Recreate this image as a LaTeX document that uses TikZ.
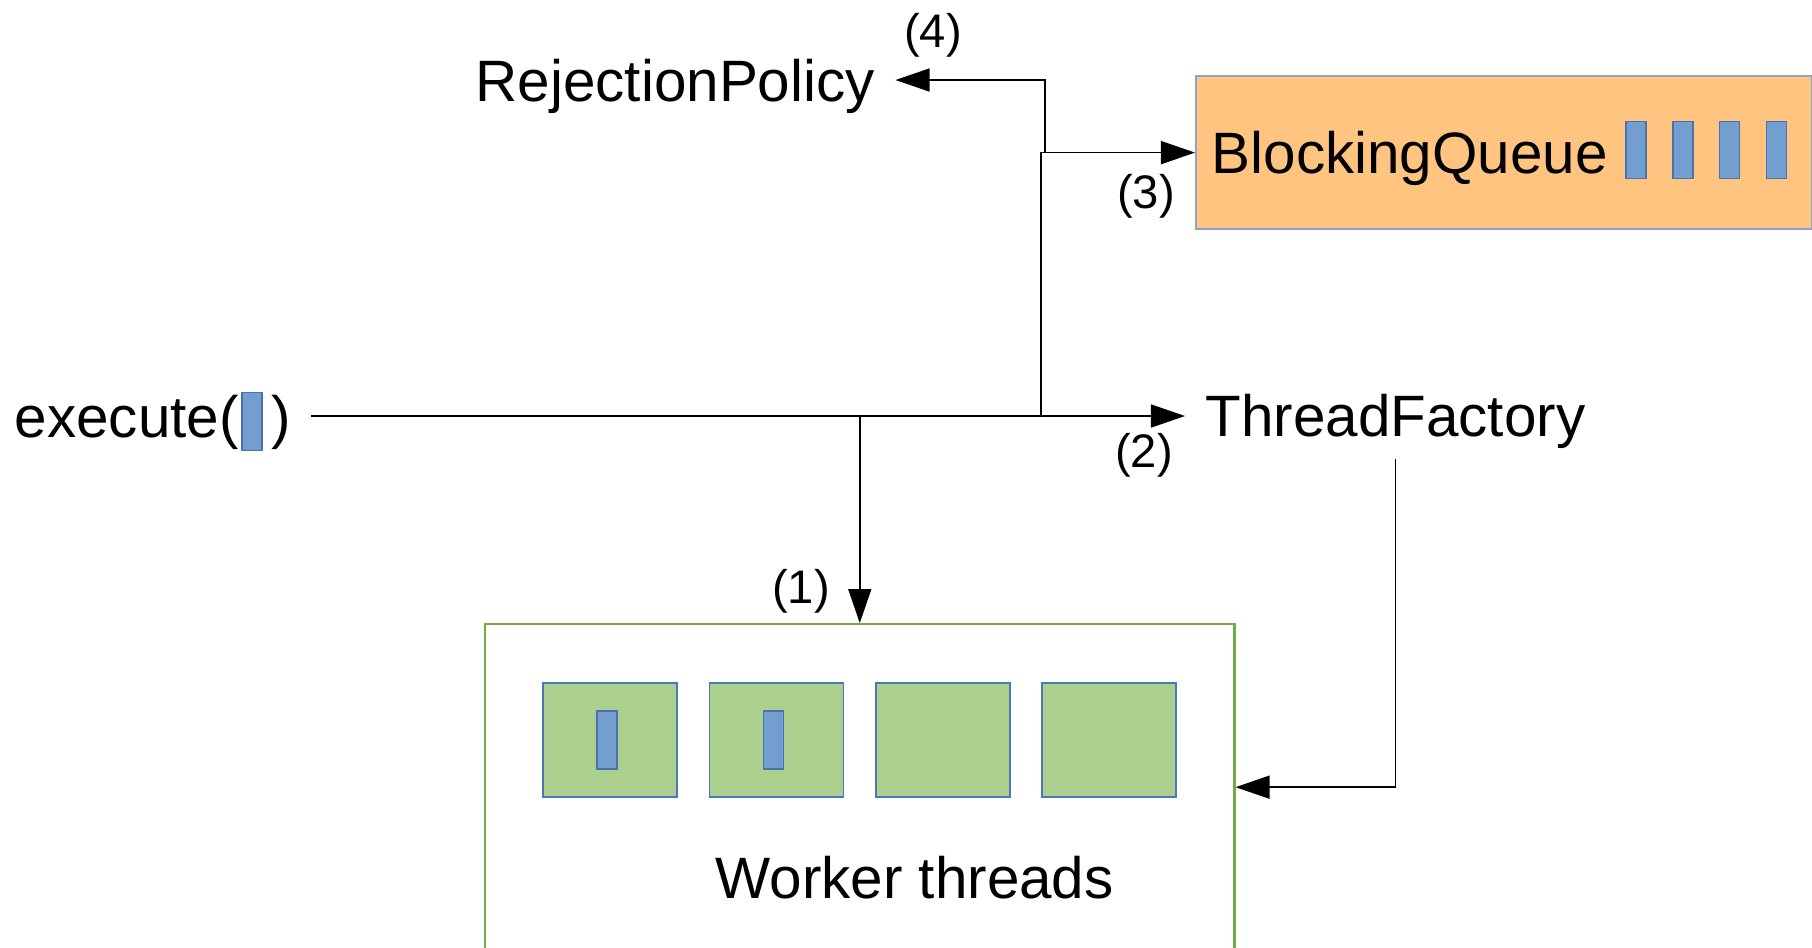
\documentclass[tikz,border=0pt]{standalone}
\usepackage{fontspec}
\setmainfont{Liberation Sans}
\usepackage{xcolor}
\usepackage{tikz}
\usetikzlibrary{arrows.meta, positioning, calc}

\definecolor{queueorange}{HTML}{FFC580}
\definecolor{queueedge}{HTML}{8FA3C8}
\definecolor{threadgreen}{HTML}{ABCF8C}
\definecolor{pooledge}{HTML}{70AD47}
\definecolor{jobblue}{HTML}{729FCF}
\definecolor{jobedge}{HTML}{4A72B0}
\definecolor{boxedge}{HTML}{4A76C0}

\tikzset{
  biglabel/.style={
    font=\fontsize{16.6}{20}\selectfont, inner xsep=0.2cm, inner ysep=0pt,
    text height=0.42cm, text depth=0pt
  },
  steplabel/.style={
    font=\fontsize{13.4}{16}\selectfont, inner sep=0pt, anchor=base
  },
  queuebox/.style={
    draw=queueedge, fill=queueorange, line width=0.6pt, inner sep=0pt,
    minimum width=6.16cm, minimum height=1.53cm, anchor=north west
  },
  poolbox/.style={
    draw=pooledge, line width=0.6pt, inner sep=0pt,
    minimum width=7.49cm, minimum height=3.26cm, anchor=north west
  },
  threadbox/.style={
    draw=boxedge, fill=threadgreen, line width=0.5pt, inner sep=0pt,
    minimum width=1.34cm, minimum height=1.14cm
  },
  jobbar/.style={
    draw=jobedge, fill=jobblue, line width=0.5pt, inner sep=0pt,
    minimum width=0.2cm, minimum height=0.58cm
  },
  wire/.style={line width=0.45pt, black},
  wirearrow/.style={
    wire, -{Triangle[length=3.4mm, width=2.3mm]}
  },
}

\begin{document}
\begin{tikzpicture}[x=0.01cm, y=-0.01cm]
  \useasboundingbox (0,0) rectangle (1812,947);
  \clip (0,0) rectangle (1812,947);

  % Submitting a task
  \node[biglabel, anchor=west] (exec) at (-6,416)
    {execute(\hspace{0.325cm})};
  \node[jobbar] (job0) at (252,421.5) {};

  % Targets
  \node[biglabel, anchor=west] (rejpol) at (455,80) {RejectionPolicy};
  \node[queuebox] (queue) at (1195,75) {};
  \node[biglabel, anchor=west] (qlabel) at (1191,152) {BlockingQueue};
  \foreach \i/\cx in {1/1636,2/1683,3/1729.5,4/1776.5}
    \node[jobbar, minimum height=0.57cm] (qjob\i) at (\cx,150) {};
  \node[biglabel, anchor=west] (factory) at (1185,415) {ThreadFactory};

  % Worker pool
  \node[poolbox] (workers) at (484,623) {};
  \foreach \i/\cx in {1/610,2/776.5,3/943,4/1109}
    \node[threadbox] (thr\i) at (\cx,740) {};
  \node[jobbar] (job1) at ([xshift=-0.03cm]thr1.center) {};
  \node[jobbar] (job2) at ([xshift=-0.03cm]thr2.center) {};
  \node[biglabel, anchor=west] (wlabel) at (695,877) {Worker threads};

  % Routing
  \coordinate (split) at (workers.north |- exec.east);
  \coordinate (fork) at (1041,416);
  \coordinate (rejtap) at ([xshift=0.04cm]fork |- queue.west);

  \draw[wire] (exec.east) -- (split) -- (fork);
  \draw[wirearrow] (split) -- (workers.north);
  \draw[wirearrow] (fork) -- (fork -| factory.west);
  \draw[wirearrow] (fork) |- (queue.west);
  \draw[wirearrow] (rejtap) |- (rejpol.east);
  \draw[wirearrow] ([yshift=-0.22cm]factory.south) |- (workers.east);

  % Step numbers
  \node[steplabel] (n1) at (801,603) {(1)};
  \node[steplabel] (n2) at (1144,467) {(2)};
  \node[steplabel] (n3) at (1146,208) {(3)};
  \node[steplabel] (n4) at (933,47) {(4)};
\end{tikzpicture}
\end{document}
